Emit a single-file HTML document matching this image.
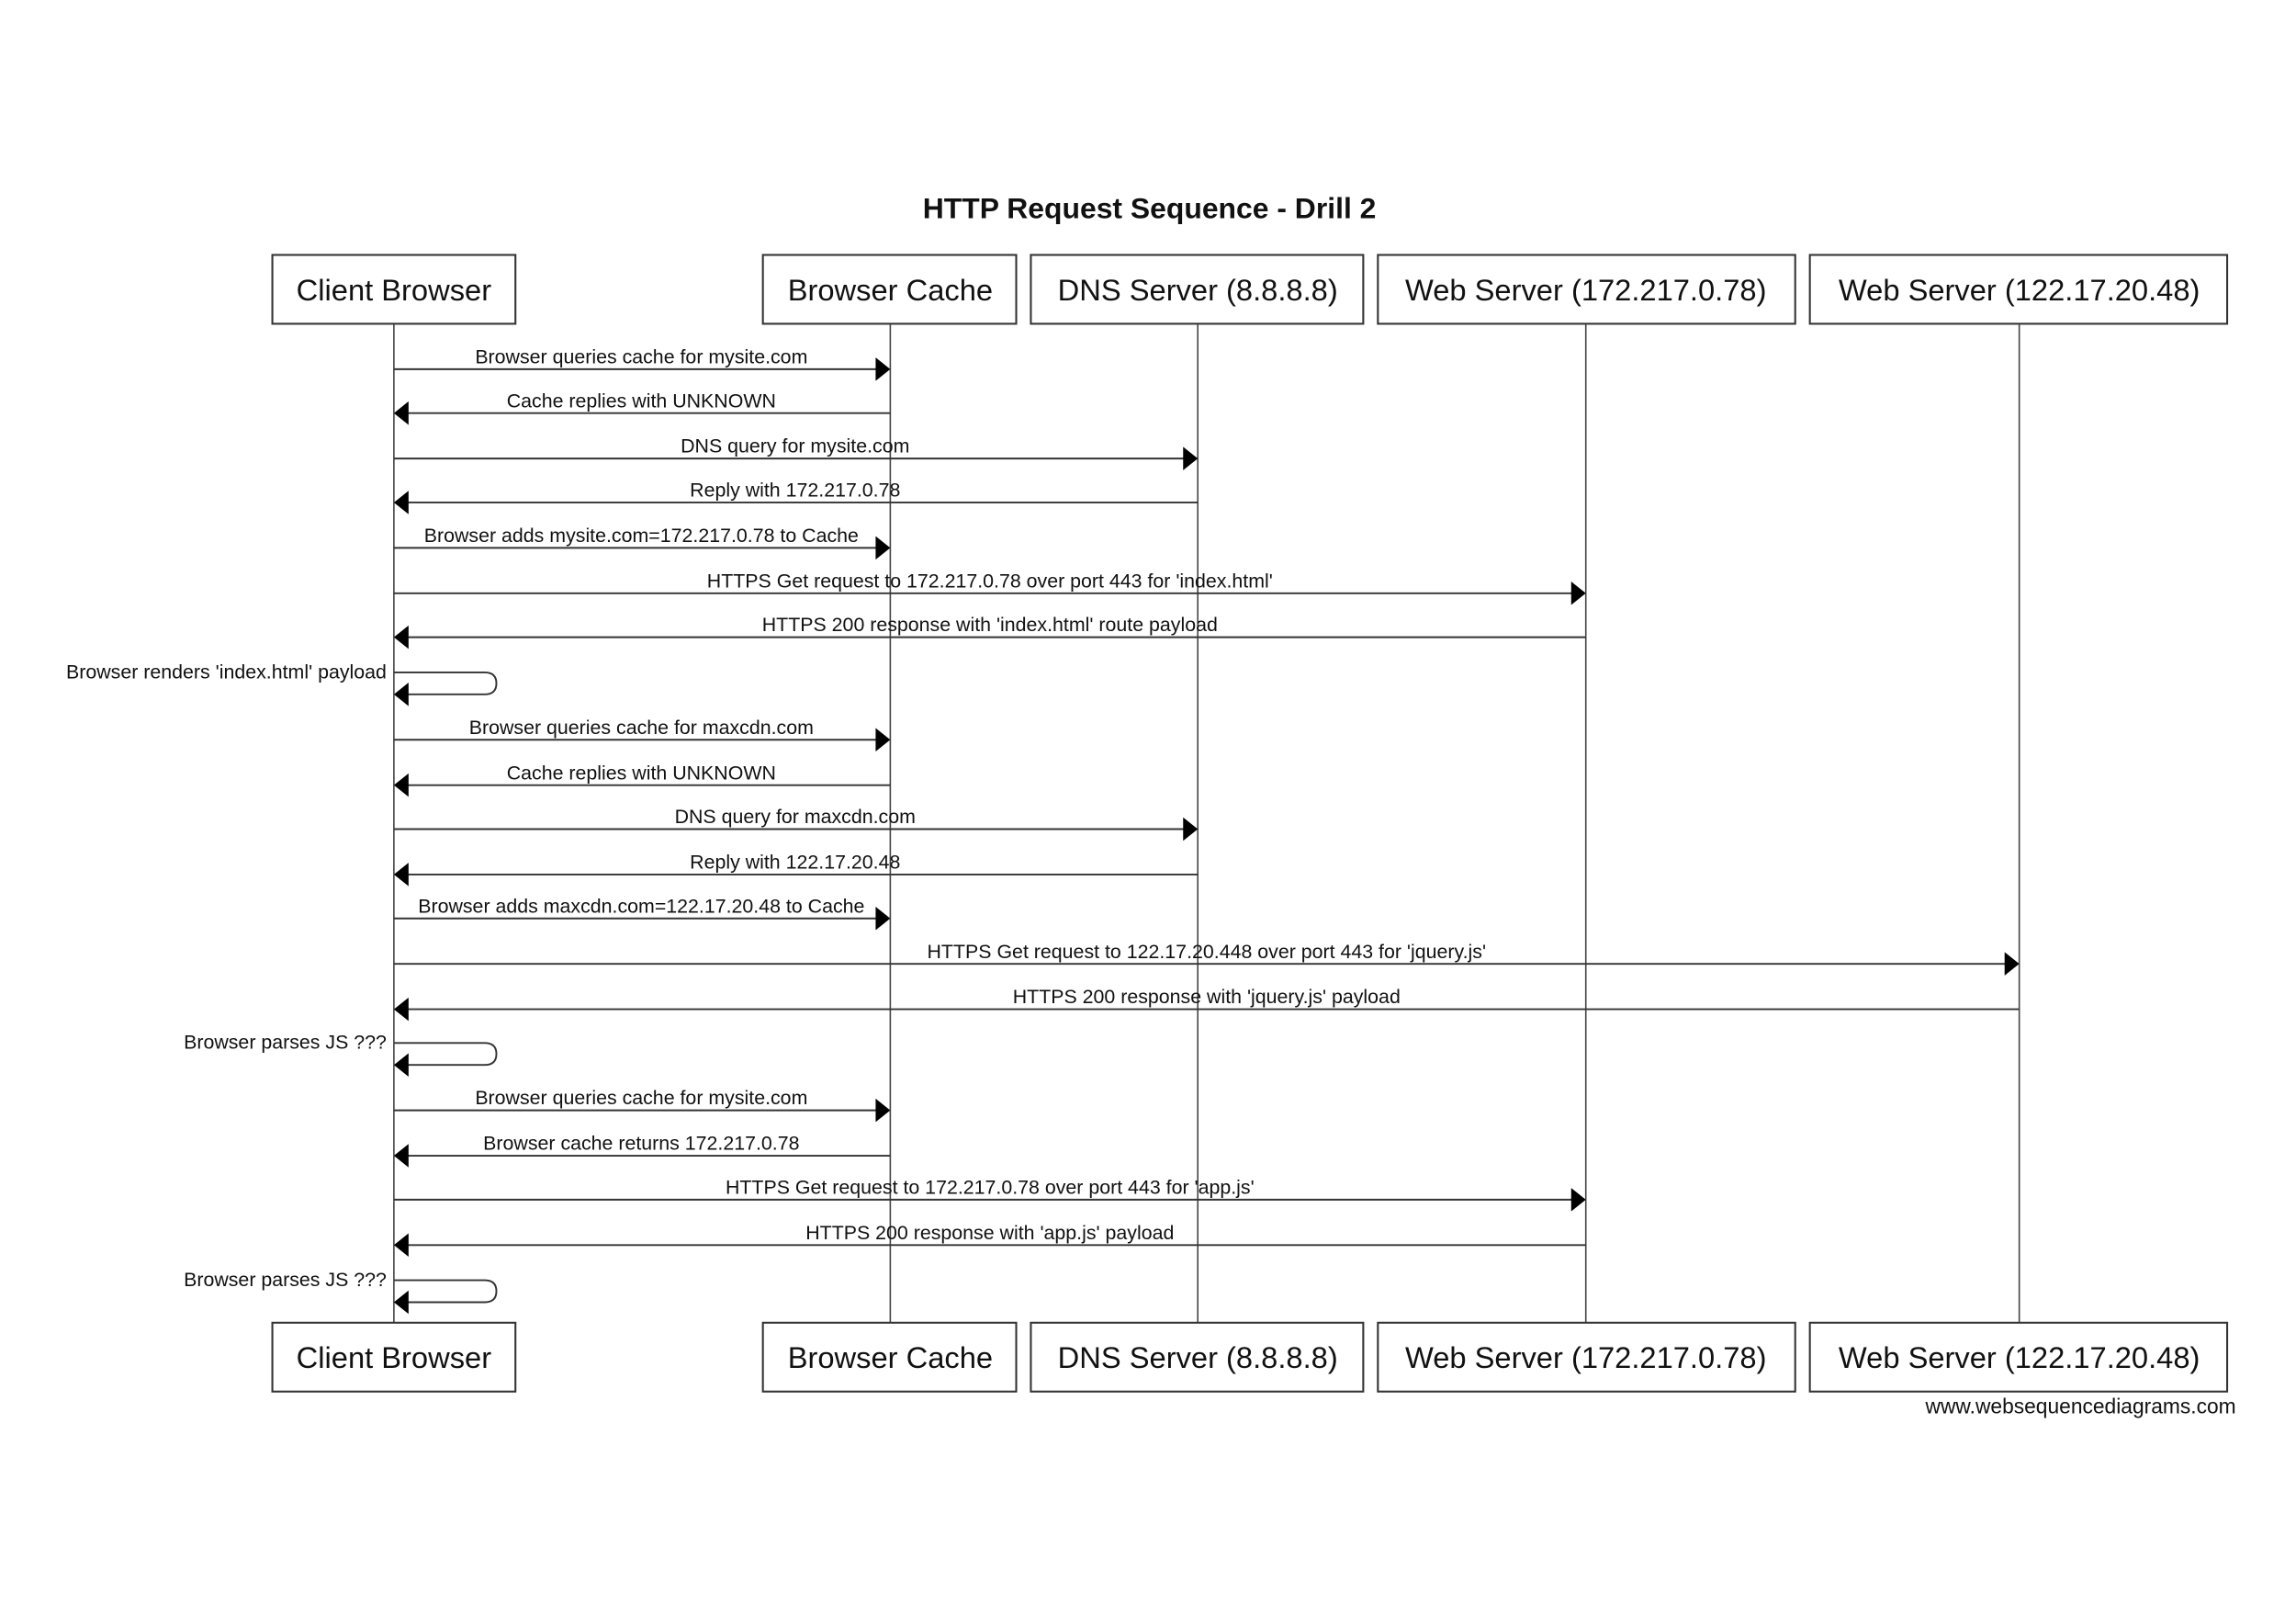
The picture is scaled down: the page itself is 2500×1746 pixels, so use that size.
<!DOCTYPE html>
<html><head><meta charset="utf-8"><style>
html,body{margin:0;padding:0;background:#fff}
svg{display:block}
text{font-family:"Liberation Sans",Arial,sans-serif;fill:#111}
.m{font-size:13.4px;text-anchor:middle}
.b{font-size:20.5px;text-anchor:middle}
.ln{stroke:#333;stroke-width:1.2;fill:none}
.ll{stroke:#444;stroke-width:1}
.bx{fill:#fff;stroke:#333;stroke-width:1.3}
</style></head><body>
<svg width="2500" height="1746" viewBox="0 0 1568 1095" xmlns="http://www.w3.org/2000/svg">
<rect width="1568" height="1095" fill="#fff"/>
<text x="785" y="149" style="font-size:20px;font-weight:bold;text-anchor:middle">HTTP Request Sequence - Drill 2</text>
<g class="ll">
<line x1="269" y1="221" x2="269" y2="903"/><line x1="608" y1="221" x2="608" y2="903"/><line x1="818" y1="221" x2="818" y2="903"/><line x1="1083" y1="221" x2="1083" y2="903"/><line x1="1379" y1="221" x2="1379" y2="903"/>
</g>
<g>
<rect class="bx" x="186" y="174" width="166" height="47"/><text class="b" x="269" y="205">Client Browser</text>
<rect class="bx" x="521" y="174" width="173" height="47"/><text class="b" x="608" y="205">Browser Cache</text>
<rect class="bx" x="704" y="174" width="227" height="47"/><text class="b" x="818" y="205">DNS Server (8.8.8.8)</text>
<rect class="bx" x="941" y="174" width="285" height="47"/><text class="b" x="1083" y="205">Web Server (172.217.0.78)</text>
<rect class="bx" x="1236" y="174" width="285" height="47"/><text class="b" x="1379" y="205">Web Server (122.17.20.48)</text>
<rect class="bx" x="186" y="903" width="166" height="47"/><text class="b" x="269" y="934">Client Browser</text>
<rect class="bx" x="521" y="903" width="173" height="47"/><text class="b" x="608" y="934">Browser Cache</text>
<rect class="bx" x="704" y="903" width="227" height="47"/><text class="b" x="818" y="934">DNS Server (8.8.8.8)</text>
<rect class="bx" x="941" y="903" width="285" height="47"/><text class="b" x="1083" y="934">Web Server (172.217.0.78)</text>
<rect class="bx" x="1236" y="903" width="285" height="47"/><text class="b" x="1379" y="934">Web Server (122.17.20.48)</text>
</g>
<g>
<line class="ln" x1="269" y1="252" x2="600" y2="252"/><polygon points="608,252 598,244 598,260"/><text class="m" x="438" y="248">Browser queries cache for mysite.com</text>
<line class="ln" x1="277" y1="282" x2="608" y2="282"/><polygon points="269,282 279,274 279,290"/><text class="m" x="438" y="278">Cache replies with UNKNOWN</text>
<line class="ln" x1="269" y1="313" x2="810" y2="313"/><polygon points="818,313 808,305 808,321"/><text class="m" x="543" y="309">DNS query for mysite.com</text>
<line class="ln" x1="277" y1="343" x2="818" y2="343"/><polygon points="269,343 279,335 279,351"/><text class="m" x="543" y="339">Reply with 172.217.0.78</text>
<line class="ln" x1="269" y1="374" x2="600" y2="374"/><polygon points="608,374 598,366 598,382"/><text class="m" x="438" y="370">Browser adds mysite.com=172.217.0.78 to Cache</text>
<line class="ln" x1="269" y1="405" x2="1075" y2="405"/><polygon points="1083,405 1073,397 1073,413"/><text class="m" x="676" y="401">HTTPS Get request to 172.217.0.78 over port 443 for 'index.html'</text>
<line class="ln" x1="277" y1="435" x2="1083" y2="435"/><polygon points="269,435 279,427 279,443"/><text class="m" x="676" y="431">HTTPS 200 response with 'index.html' route payload</text>
<path class="ln" d="M269 459 H331 Q339 459 339 466.5 Q339 474 331 474 H277"/><polygon points="269,474 279,466 279,482"/><text class="m" x="264" y="463" style="text-anchor:end">Browser renders 'index.html' payload</text>
<line class="ln" x1="269" y1="505" x2="600" y2="505"/><polygon points="608,505 598,497 598,513"/><text class="m" x="438" y="501">Browser queries cache for maxcdn.com</text>
<line class="ln" x1="277" y1="536" x2="608" y2="536"/><polygon points="269,536 279,528 279,544"/><text class="m" x="438" y="532">Cache replies with UNKNOWN</text>
<line class="ln" x1="269" y1="566" x2="810" y2="566"/><polygon points="818,566 808,558 808,574"/><text class="m" x="543" y="562">DNS query for maxcdn.com</text>
<line class="ln" x1="277" y1="597" x2="818" y2="597"/><polygon points="269,597 279,589 279,605"/><text class="m" x="543" y="593">Reply with 122.17.20.48</text>
<line class="ln" x1="269" y1="627" x2="600" y2="627"/><polygon points="608,627 598,619 598,635"/><text class="m" x="438" y="623">Browser adds maxcdn.com=122.17.20.48 to Cache</text>
<line class="ln" x1="269" y1="658" x2="1371" y2="658"/><polygon points="1379,658 1369,650 1369,666"/><text class="m" x="824" y="654">HTTPS Get request to 122.17.20.448 over port 443 for 'jquery.js'</text>
<line class="ln" x1="277" y1="689" x2="1379" y2="689"/><polygon points="269,689 279,681 279,697"/><text class="m" x="824" y="685">HTTPS 200 response with 'jquery.js' payload</text>
<path class="ln" d="M269 712 H331 Q339 712 339 719.5 Q339 727 331 727 H277"/><polygon points="269,727 279,719 279,735"/><text class="m" x="264" y="716" style="text-anchor:end">Browser parses JS ???</text>
<line class="ln" x1="269" y1="758" x2="600" y2="758"/><polygon points="608,758 598,750 598,766"/><text class="m" x="438" y="754">Browser queries cache for mysite.com</text>
<line class="ln" x1="277" y1="789" x2="608" y2="789"/><polygon points="269,789 279,781 279,797"/><text class="m" x="438" y="785">Browser cache returns 172.217.0.78</text>
<line class="ln" x1="269" y1="819" x2="1075" y2="819"/><polygon points="1083,819 1073,811 1073,827"/><text class="m" x="676" y="815">HTTPS Get request to 172.217.0.78 over port 443 for 'app.js'</text>
<line class="ln" x1="277" y1="850" x2="1083" y2="850"/><polygon points="269,850 279,842 279,858"/><text class="m" x="676" y="846">HTTPS 200 response with 'app.js' payload</text>
<path class="ln" d="M269 874 H331 Q339 874 339 881.5 Q339 889 331 889 H277"/><polygon points="269,889 279,881 279,897"/><text class="m" x="264" y="878" style="text-anchor:end">Browser parses JS ???</text>
</g>
<text x="1527" y="965" style="font-size:14.3px;text-anchor:end">www.websequencediagrams.com</text>
</svg>
</body></html>
